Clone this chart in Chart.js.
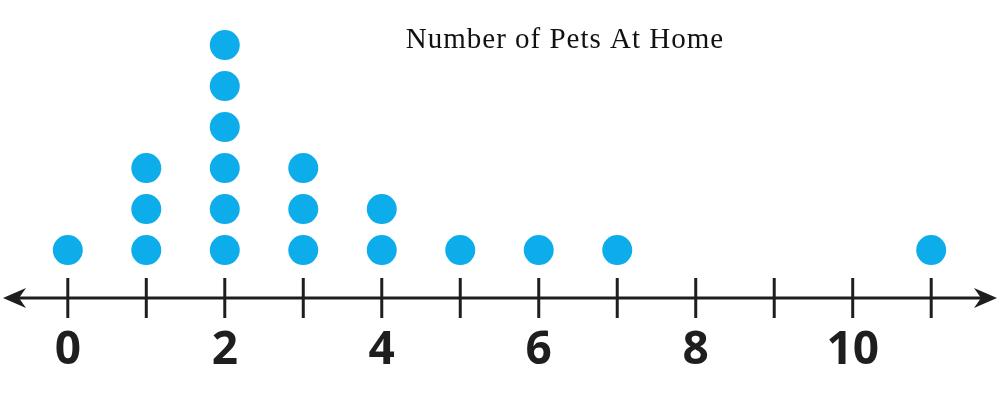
<!DOCTYPE html>
<html>
<head>
<meta charset="utf-8">
<script src="https://cdn.jsdelivr.net/npm/chart.js@4/dist/chart.umd.min.js"></script>
<style>
  html, body { margin: 0; padding: 0; background: #fff; }
  #wrap { width: 1000px; height: 395px; }
</style>
</head>
<body>
<div id="wrap"><canvas id="dotPlot"></canvas></div>
<script>
// DATA
const chartTitle = 'Number of Pets At Home';
const petValues = [0, 1, 2, 3, 4, 5, 6, 7, 8, 9, 10, 11];
const petCounts = [1, 3, 6, 3, 2, 1, 1, 1, 0, 0, 0, 1];
const labeledTicks = [0, 2, 4, 6, 8, 10];

const dotColor = '#0dadec';
const inkColor = '#1e1e1e';

// one point per dot, stacked up from 1
const dots = [];
petValues.forEach((v, i) => {
  for (let k = 1; k <= petCounts[i]; k++) {
    dots.push({ x: v, y: k });
  }
});

// number line with arrows + tick marks, and the title
const numberLine = {
  id: 'numberLine',
  beforeDatasetsDraw(chart) {
    const { ctx, chartArea, scales } = chart;
    const y = chartArea.bottom;
    const left = 3;
    const right = chart.width - 3;
    ctx.save();
    ctx.strokeStyle = inkColor;
    ctx.fillStyle = inkColor;
    ctx.lineWidth = 3;
    ctx.beginPath();
    ctx.moveTo(left + 8, y);
    ctx.lineTo(right - 8, y);
    ctx.stroke();

    // arrow heads
    const arrow = (tip, dir) => {
      ctx.beginPath();
      ctx.moveTo(tip, y);
      ctx.lineTo(tip + dir * 23, y - 10);
      ctx.lineTo(tip + dir * 16, y);
      ctx.lineTo(tip + dir * 23, y + 10);
      ctx.closePath();
      ctx.fill();
    };
    arrow(left, 1);
    arrow(right, -1);

    // ticks
    petValues.forEach(v => {
      const x = scales.x.getPixelForValue(v);
      ctx.beginPath();
      ctx.moveTo(x, y - 20);
      ctx.lineTo(x, y + 20);
      ctx.stroke();
    });

    // title
    ctx.fillStyle = '#111';
    ctx.font = '29px "Liberation Serif", "Times New Roman", serif';
    ctx.letterSpacing = '1px';
    ctx.textAlign = 'center';
    ctx.textBaseline = 'alphabetic';
    ctx.fillText(chartTitle, 565, 48);
    ctx.restore();
  }
};

new Chart(document.getElementById('dotPlot'), {
  type: 'scatter',
  data: {
    datasets: [{
      label: chartTitle,
      data: dots,
      backgroundColor: dotColor,
      borderWidth: 0,
      pointRadius: 15,
      pointHoverRadius: 15
    }]
  },
  options: {
    responsive: true,
    maintainAspectRatio: false,
    animation: false,
    events: [],
    layout: {
      autoPadding: false,
      padding: { left: 5, right: 6, top: 0, bottom: 0 }
    },
    plugins: {
      legend: { display: false },
      tooltip: { enabled: false }
    },
    scales: {
      x: {
        type: 'linear',
        min: -0.8,
        max: 11.8,
        border: { display: false },
        grid: { display: false, drawTicks: false },
        afterBuildTicks: (scale) => { scale.ticks = petValues.map(v => ({ value: v })); },
        afterFit: (scale) => { scale.height = 97; },
        ticks: {
          autoSkip: false,
          maxRotation: 0,
          padding: 25,
          color: inkColor,
          font: { family: '"Open Sans", sans-serif', size: 46, weight: 'bold' },
          callback: (v) => labeledTicks.includes(v) ? String(v) : ''
        }
      },
      y: {
        display: false,
        min: -0.17,
        max: 7.1
      }
    }
  },
  plugins: [numberLine]
});
</script>
</body>
</html>
